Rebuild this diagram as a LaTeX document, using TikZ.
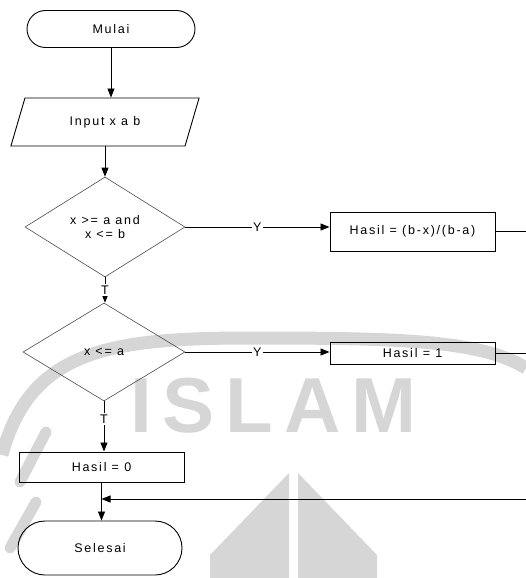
\documentclass[tikz,border=0pt]{standalone}
\usepackage{fontspec}
\newfontfamily\flowfont{Liberation Sans}[LetterSpace=14]
\newfontfamily\markfont{Liberation Sans Bold}[LetterSpace=14]
\usetikzlibrary{shapes.geometric,shapes.misc,arrows.meta}
\begin{document}
\begin{tikzpicture}[x=1pt,y=-1pt,
  every node/.style={font=\flowfont\fontsize{12.5}{13.5}\selectfont, inner sep=0pt},
  terminal/.style={draw, line width=0.9pt, rounded rectangle, minimum width=168pt, minimum height=37pt},
  io/.style={draw, line width=0.9pt, trapezium, trapezium left angle=62, trapezium right angle=118,
    trapezium stretches=true, minimum width=189pt, minimum height=48pt},
  decision/.style={draw=black!70, line width=0.6pt, diamond, aspect=1.6,
    minimum width=160pt, minimum height=100pt, align=center},
  process/.style={draw, line width=1pt, rectangle, minimum width=165pt},
  flow/.style={line width=0.8pt, -{Triangle[length=9pt,width=7pt]}},
  plain/.style={line width=0.8pt},
  branch/.style={fill=white, inner sep=1.5pt},
  watermark/.style={black!16}
]
\useasboundingbox (0,0) rectangle (526,578);

% faint background logo
\draw[watermark, line width=13pt] (2,455) .. controls (30,350) and (110,338) .. (250,338)
  .. controls (400,338) and (480,340) .. (526,368);
\draw[watermark, line width=11pt, line cap=round] (20,482) -- (46,432);
\draw[watermark, line width=11pt, line cap=round] (10,548) -- (36,502);
\fill[watermark] (289,473) -- (210,555) -- (210,578) -- (289,578) -- cycle;
\fill[watermark] (298,473) -- (377,555) -- (377,578) -- (298,578) -- cycle;
\node[watermark, font=\markfont\fontsize{78}{78}\selectfont, anchor=base west] (mark) at (130,432) {ISLAM};

% flowchart nodes
\node[terminal] (start) at (111,29) {Mulai};
\node[io] (input) at (105,122) {Input x a b};
\node[decision] (d1) at (105,227) {x >= a and\\x <= b};
\node[process, minimum height=39pt] (b1) at (412.5,231.5) {Hasil = (b-x)/(b-a)};
\node[decision, minimum width=162pt, minimum height=98pt] (d2) at (104,352) {x <= a};
\node[process, minimum height=22pt] (b2) at (412.5,353) {Hasil = 1};
\node[process, minimum height=30pt] (b3) at (101.5,467) {Hasil = 0};
\node[terminal, minimum width=164pt, minimum height=54pt] (stop) at (100,548) {Selesai};

% loose ends running off to the right
\coordinate (r1) at (526,231.5);
\coordinate (r2) at (526,353);
\coordinate (r3) at (526,499);
\coordinate (join) at (b3.south |- r3);

% connectors
\draw[flow] (start.south) -- (start.south |- input.north);
\draw[flow] (d1.north |- input.south) -- (d1.north);
\draw[flow] (d1.east) -- node[branch]{Y} (d1.east -| b1.west);
\draw[plain] (b1.east) -- (r1);
\draw[flow] (d1.south) -- node[branch]{T} (d1.south |- d2.north);
\draw[flow] (d2.east) -- node[branch]{Y} (d2.east -| b2.west);
\draw[plain] (b2.east) -- (r2);
\draw[flow] (d2.south) -- node[branch, pos=0.35]{T} (d2.south |- b3.north);
\draw[flow] (b3.south) -- (b3.south |- stop.north);
\draw[flow] (r3) -- (join);
\end{tikzpicture}
\end{document}
